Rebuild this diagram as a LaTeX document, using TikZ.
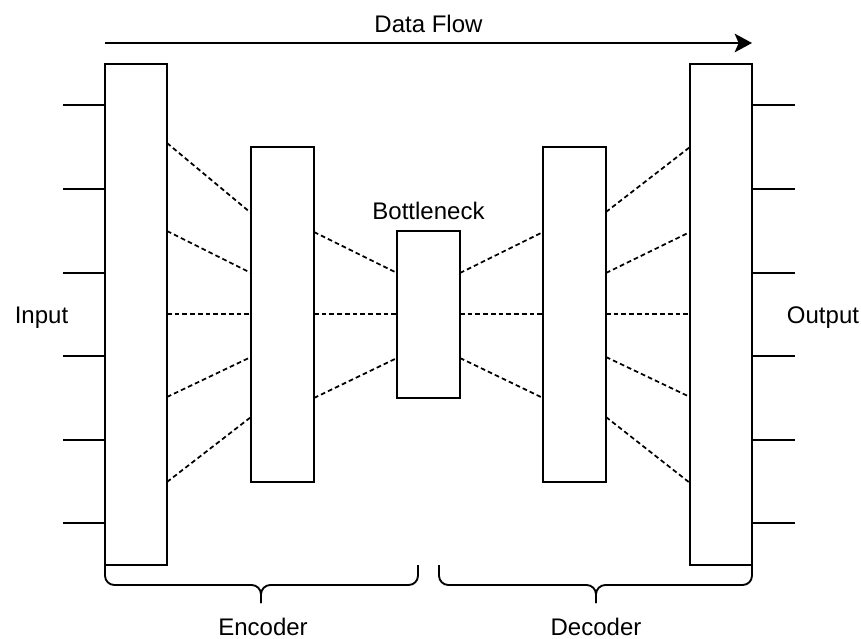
\documentclass[tikz,border=0pt]{standalone}
\usepackage{fontspec}
\setmainfont{Liberation Sans}
\usetikzlibrary{arrows.meta}
\begin{document}
\begin{tikzpicture}[x=0.75pt,y=-0.75pt,
  blk/.style={draw, line width=1.4pt, inner sep=0pt, outer sep=0pt, minimum width=46.5pt},
  link/.style={line width=1.3pt, dash pattern=on 3.5pt off 2.3pt},
  port/.style={line width=1.4pt},
  lbl/.style={font=\fontsize{18pt}{21pt}\selectfont, inner sep=0pt, anchor=base},
  bracepath/.style={line width=1.4pt, rounded corners=7pt},
  flow/.style={line width=1.4pt, -{Stealth[length=13pt,width=14pt,inset=3pt]}}]
\useasboundingbox (0,0) rectangle (861,639);

% blocks
\node[blk, minimum height=375.75pt] (L) at (136,314.5) {};
\node[blk, minimum width=47.25pt, minimum height=251.25pt] (E) at (282.5,314.5) {};
\node[blk, minimum width=47.25pt, minimum height=125.25pt] (B) at (428.5,314.5) {};
\node[blk, minimum width=47.25pt, minimum height=251.25pt] (D) at (574.5,314.5) {};
\node[blk, minimum height=375.75pt] (R) at (721,314.5) {};

% input / output ports
\foreach \yy [count=\i] in {105,189,273,356,440,523} {
  \coordinate (in\i) at (63,\yy);
  \coordinate (out\i) at (795,\yy);
  \draw[port] (in\i) -- (L.west |- in\i);
  \draw[port] (R.east |- out\i) -- (out\i);
}

% dashed links L -> E
\draw[link] (L.east |- 0,143) -- (E.west |- 0,213);
\draw[link] (L.east |- 0,231) -- (E.west |- 0,273);
\draw[link] (L.east |- 0,314) -- (E.west |- 0,314);
\draw[link] (L.east |- 0,397) -- (E.west |- 0,357);
\draw[link] (L.east |- 0,482) -- (E.west |- 0,417);
% E -> B
\draw[link] (E.east |- 0,232) -- (B.west |- 0,273);
\draw[link] (E.east |- 0,314) -- (B.west |- 0,314);
\draw[link] (E.east |- 0,398) -- (B.west |- 0,358);
% B -> D
\draw[link] (B.east |- 0,273) -- (D.west |- 0,232);
\draw[link] (B.east |- 0,314) -- (D.west |- 0,314);
\draw[link] (B.east |- 0,358) -- (D.west |- 0,398);
% D -> R
\draw[link] (D.east |- 0,212) -- (R.west |- 0,147);
\draw[link] (D.east |- 0,273) -- (R.west |- 0,232);
\draw[link] (D.east |- 0,314) -- (R.west |- 0,314);
\draw[link] (D.east |- 0,357) -- (R.west |- 0,397);
\draw[link] (D.east |- 0,417) -- (R.west |- 0,483);

% data flow arrow
\draw[flow] (L.west |- 0,43) -- (R.east |- 0,43);

% braces
\coordinate (etip) at (261,603);
\coordinate (dtip) at (596,603);
\draw[bracepath] (L.south west) -- (105,585) -- (261,585) -- (etip);
\draw[bracepath] (418,565) -- (418,585) -- (261,585) -- (etip);
\draw[bracepath] (439,565) -- (439,585) -- (596,585) -- (dtip);
\draw[bracepath] (R.south east) -- (752,585) -- (596,585) -- (dtip);

% labels
\node[lbl] (dfl) at (428.5,32) {Data Flow};
\node[lbl] (bnl) at (428.5,219) {Bottleneck};
\node[lbl] (inl) at (41.5,323) {Input};
\node[lbl] (outl) at (823,323) {Output};
\node[lbl, text depth=0pt] (encl) at (263,635) {Encoder};
\node[lbl, text depth=0pt] (decl) at (596,635) {Decoder};
\end{tikzpicture}
\end{document}
